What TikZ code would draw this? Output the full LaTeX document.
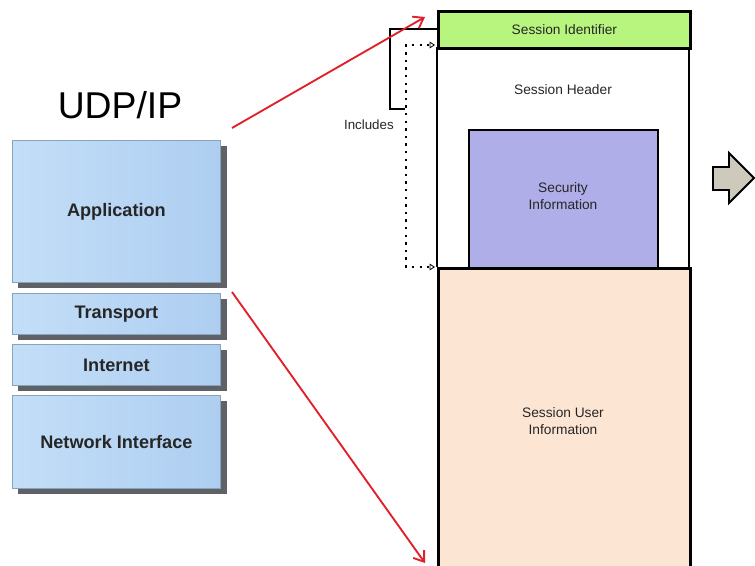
\documentclass[tikz,border=0pt]{standalone}
\usepackage{fontspec}
\setmainfont{Liberation Sans}
\usetikzlibrary{arrows.meta}
\definecolor{layerfill}{HTML}{AECEF1}
\definecolor{layerfilltop}{HTML}{C3DEF7}
\definecolor{layerline}{HTML}{8AA3BD}
\definecolor{layershadow}{HTML}{5E6166}
\definecolor{idgreen}{HTML}{B7F57E}
\definecolor{secblue}{HTML}{AFAEE9}
\definecolor{userpeach}{HTML}{FDE5D4}
\definecolor{redarrow}{HTML}{E0202A}
\definecolor{fatarrow}{HTML}{CDC9BB}
\tikzset{
  layer/.style={draw=layerline, line width=0.6pt, left color=layerfilltop, right color=layerfill},
  layertext/.style={font=\fontsize{13.6}{16}\selectfont\bfseries, text=black!85},
  field/.style={draw=black, line width=2.1pt},
  fieldtext/.style={font=\fontsize{10.3}{12.4}\selectfont, text=black!85, align=center},
  redline/.style={draw=redarrow, line width=1.4pt, -{Straight Barb[length=7pt,width=10pt,line width=1.4pt]}},
  dotline/.style={line width=1.7pt, dash pattern=on 1.5pt off 4.2pt, -{Triangle[open,length=4pt,width=5pt,line width=0.6pt]}}
}
\begin{document}
\begin{tikzpicture}[x=0.75pt,y=-0.75pt]
\useasboundingbox (0,0) rectangle (755,566);

% title of the protocol stack
\node[font=\fontsize{28}{32}\selectfont, text=black] (title) at (120,105) {UDP/IP};

% protocol layers with drop shadows
\foreach \top/\bot in {140/282, 293/334, 344/385, 395/488}{
  \fill[layershadow] (18,\top+6) rectangle (227,\bot+6);
}
\node[layer, minimum width=208*0.75pt, minimum height=142*0.75pt, anchor=north west] (app) at (12,140) {};
\node[layer, minimum width=208*0.75pt, minimum height=41*0.75pt, anchor=north west] (transport) at (12,293) {};
\node[layer, minimum width=208*0.75pt, minimum height=41*0.75pt, anchor=north west] (internet) at (12,344) {};
\node[layer, minimum width=208*0.75pt, minimum height=93*0.75pt, anchor=north west] (netif) at (12,395) {};
\foreach \n/\t in {app/Application, transport/Transport, internet/Internet, netif/Network Interface}{
  \node[layertext] at ([yshift=-0.4pt]\n.center) {\t};
}

% session packet layout
\fill[white] (437,47) rectangle (689,267);
\node[field, fill=idgreen, minimum width=252*0.75pt, minimum height=37*0.75pt, anchor=north west, inner sep=0pt] (sid) at (437,10) {};
\node[fieldtext] at (sid.center) {Session Identifier};
\node[field, fill=userpeach, minimum width=252*0.75pt, minimum height=305*0.75pt, anchor=north west, inner sep=0pt] (user) at (437,267) {};
\node[fieldtext] (usertext) at (563,421) {Session User\\Information};
\node[field, line width=1.6pt, fill=secblue, minimum width=189*0.75pt, minimum height=138*0.75pt, anchor=north west, inner sep=0pt] (sec) at (468,129) {};
\node[fieldtext] (sectext) at (563,196) {Security\\Information};
\node[fieldtext] (hdrtext) at (563,90) {Session Header};
\draw[black, line width=2.1pt] (437,47) -- (437,267) (689,47) -- (689,267);

% bracket and "Includes" relation
\coordinate (brtop) at (437,29);
\coordinate (brbot) at (405,109);
\draw[black, line width=1.6pt] (brtop) -- (390,29) -- (390,109) -- (brbot);
\node[font=\fontsize{10}{12}\selectfont, text=black!85, anchor=east, inner sep=0pt] (incl) at (394,125) {Includes};
\coordinate (dtop) at (406,45);
\coordinate (dbot) at (406,267);
\draw[dotline] (dbot) -- (dtop) -- (435,45);
\draw[dotline] (dtop) -- (dbot) -- (435,267);

% red mapping arrows
\coordinate (a1s) at (232,128);
\coordinate (a1e) at (425,17);
\coordinate (a2s) at (232,292);
\coordinate (a2e) at (425,563);
\draw[redline] (a1s) -- (a1e);
\draw[redline] (a2s) -- (a2e);

% block arrow on the right
\draw[black, line width=1.4pt, fill=fatarrow, line join=miter]
  (713,167) -- (729,167) -- (729,153) -- (754,178) -- (729,203) -- (729,190) -- (713,190) -- cycle;
\end{tikzpicture}
\end{document}
